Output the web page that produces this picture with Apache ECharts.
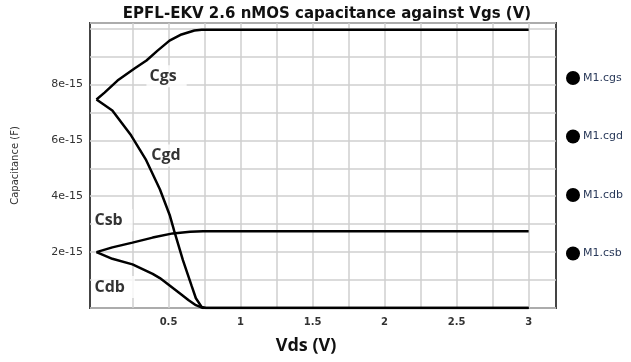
<!DOCTYPE html>
<html>
<head>
<meta charset="utf-8">
<script src="https://cdn.jsdelivr.net/npm/echarts@6/dist/echarts.min.js"></script>
<style>html,body{margin:0;padding:0;background:#fff}#c{width:631px;height:362px}</style>
</head>
<body>
<div id="c"></div>
<script>
// Capacitance values in units of 1e-15 F (fF); x in volts (Vds)
const cgsX = [0, 0.056, 0.146, 0.264, 0.347, 0.424, 0.507, 0.59, 0.68, 0.73, 0.8, 3.0];
const cgsY = [7.46, 7.71, 8.14, 8.57, 8.86, 9.21, 9.57, 9.79, 9.93, 9.96, 9.96, 9.96];
const cgdX = [0, 0.11, 0.24, 0.345, 0.44, 0.51, 0.54, 0.60, 0.66, 0.69, 0.73, 0.76, 3.0];
const cgdY = [7.46, 7.07, 6.18, 5.29, 4.25, 3.3, 2.75, 1.71, 0.8, 0.35, 0.04, 0, 0];
const cdbX = [0, 0.11, 0.25, 0.39, 0.44, 0.51, 0.58, 0.64, 0.69, 0.74, 3.0];
const cdbY = [2.0, 1.76, 1.56, 1.22, 1.07, 0.8, 0.52, 0.28, 0.1, 0, 0];
const csbX = [0, 0.11, 0.25, 0.39, 0.53, 0.65, 0.74, 3.0];
const csbY = [2.0, 2.17, 2.34, 2.52, 2.67, 2.73, 2.75, 2.75];
const seriesNames = ['M1.cgs', 'M1.cgd', 'M1.cdb', 'M1.csb'];
const xTickValues = [0.25, 0.5, 0.75, 1, 1.25, 1.5, 1.75, 2, 2.25, 2.5, 2.75, 3];
const xLabelValues = [0.5, 1, 1.5, 2, 2.5, 3];
const yLabelValues = [2, 4, 6, 8];
const annotations = [
  { text: 'Cgs', x: 0.347, y: 8.29 },
  { text: 'Cgd', x: 0.36, y: 5.46 },
  { text: 'Csb', x: -0.035, y: 3.14 },
  { text: 'Cdb', x: -0.035, y: 0.75 }
];

const pairs = (xs, ys) => xs.map((x, i) => [x, ys[i]]);
const seriesData = [pairs(cgsX, cgsY), pairs(cgdX, cgdY), pairs(cdbX, cdbY), pairs(csbX, csbY)];

const chart = echarts.init(document.getElementById('c'), null, { renderer: 'canvas' });
const series = seriesNames.map((name, i) => ({
  name, type: 'line', data: seriesData[i], showSymbol: false, symbol: 'circle',
  lineStyle: { color: '#000', width: 2.5 }, itemStyle: { color: '#000' },
  animation: false, z: 3
}));
series.push({
  name: 'annot', type: 'scatter', symbolSize: 0, z: 2,
  data: annotations.map(a => ({ value: [a.x, a.y], name: a.text })),
  label: {
    show: true, position: 'right', distance: 0, formatter: p => p.name,
    fontFamily: 'Open Sans', fontWeight: 'bold', fontSize: 16, color: '#000',
    backgroundColor: '#fff', padding: [3, 10, 3, 3]
  },
  silent: true, animation: false
});

chart.setOption({
  animation: false,
  title: {
    text: 'EPFL-EKV 2.6 nMOS capacitance against Vgs (V)',
    left: 322, top: 2, textAlign: 'center',
    textStyle: { fontFamily: 'DejaVu Sans', fontWeight: 'bold', fontSize: 15, color: '#111' }
  },
  legend: {
    data: seriesNames, orient: 'vertical', left: 566, top: 71, padding: 0,
    itemWidth: 14, itemHeight: 14, itemGap: 44.5, icon: 'circle',
    textStyle: { fontFamily: 'DejaVu Sans', fontSize: 11, color: '#2a3a5a', padding: [0, 0, 0, -2] }
  },
  grid: { left: 90, right: 75, top: 23, bottom: 54, show: true, borderColor: '#444', borderWidth: 2, containLabel: false },
  xAxis: {
    type: 'value', min: -0.045, max: 3.19,
    name: 'Vds (V)', nameLocation: 'middle', nameGap: 29,
    nameTextStyle: { fontFamily: 'Open Sans', fontWeight: 'bold', fontSize: 18, color: '#111', padding: [0, 34, 0, 0] },
    axisLine: { show: false },
    axisTick: { show: false, customValues: xTickValues },
    axisLabel: { customValues: xLabelValues, fontFamily: 'DejaVu Sans', fontWeight: 'bold', fontSize: 10, color: '#333', margin: 9 },
    splitLine: { show: true, lineStyle: { color: '#cfcfcf', width: 1.5 } }
  },
  yAxis: {
    type: 'value', min: 0, max: 10.2, interval: 1,
    name: 'Capacitance (F)', nameLocation: 'middle', nameGap: 70, nameRotate: 90,
    nameTextStyle: { fontFamily: 'DejaVu Sans', fontSize: 10, color: '#333' },
    axisLine: { show: false }, axisTick: { show: false },
    axisLabel: {
      fontFamily: 'DejaVu Sans', fontSize: 11, color: '#333', margin: 7,
      formatter: v => yLabelValues.indexOf(Math.round(v * 100) / 100) >= 0 ? v + 'e-15' : ''
    },
    splitLine: { show: true, lineStyle: { color: '#cfcfcf', width: 1.5 } }
  },
  series
});
</script>
</body>
</html>
